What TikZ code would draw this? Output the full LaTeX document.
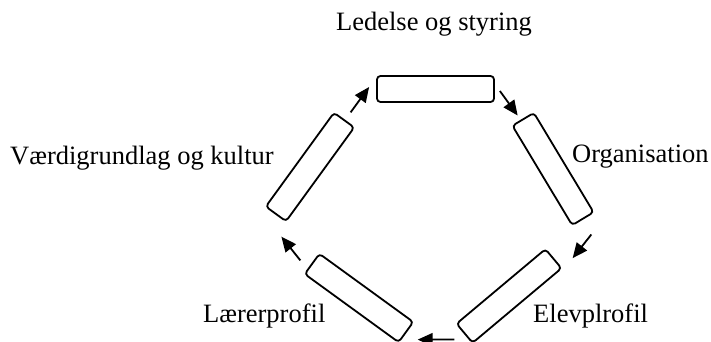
\documentclass[tikz,border=0pt]{standalone}
\usepackage{fontspec}
\setmainfont{Liberation Serif}
\usetikzlibrary{arrows.meta}

\begin{document}
\begin{tikzpicture}[x=1pt,y=-1pt,
  stage/.style={draw=black, line width=1.8pt, rounded corners=3.5pt,
    minimum width=116pt, minimum height=25pt, inner sep=0pt},
  flow/.style={line width=1.8pt, -{Triangle[length=15pt,width=13pt]}},
  lbl/.style={anchor=base west, inner sep=0pt, font=\fontsize{26.5}{31}\selectfont}]

  \useasboundingbox (0,0) rectangle (711,342);

  % the five stages of the cycle
  \node[stage, minimum width=117pt, minimum height=26pt] (top) at (435.5,89) {};
  \node[stage, rotate=-59] (org) at (553,169) {};
  \node[stage, rotate=40]  (elev) at (509,296) {};
  \node[stage, rotate=-36] (laer) at (359,298) {};
  \node[stage, rotate=54]  (vaerd) at (310,167) {};

  % labels
  \node[lbl, anchor=base] (tLed) at (434,31) {Ledelse og styring};
  \node[lbl] (tOrg)  at (572,162) {Organisation};
  \node[lbl] (tElev) at (533,322) {Elevplrofil};
  \node[lbl] (tLaer) at (203,322) {Lærerprofil};
  \node[lbl] (tVaer) at (10,164)  {Værdigrundlag og kultur};

  % clockwise arrows between the stages
  \draw[flow] ([shift={(6,-7)}]vaerd.east) -- ([shift={(-7,-2)}]top.west);
  \draw[flow] ([shift={(5,2)}]top.east) -- ([shift={(-5,-3)}]org.west);
  \draw[flow] ([shift={(8,15)}]org.east) -- ([shift={(18.5,0)}]elev.east);
  \draw[flow] ([shift={(-9.6,5.7)}]elev.west) -- ([shift={(11,7)}]laer.east);
  \draw[flow] ([shift={(-11,-3)}]laer.west) -- ([shift={(6,22)}]vaerd.west);
\end{tikzpicture}
\end{document}
